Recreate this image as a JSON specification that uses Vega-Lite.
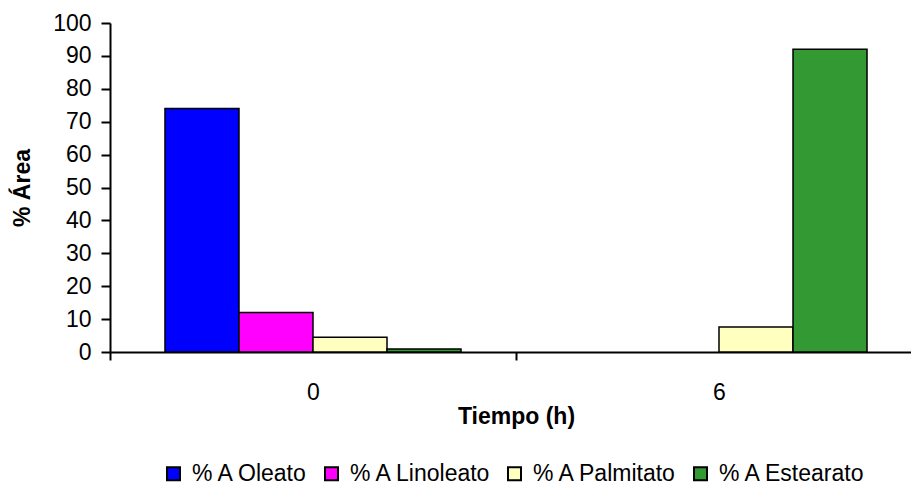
{
  "$schema": "https://vega.github.io/schema/vega-lite/v6.json",
  "width": 812,
  "height": 329,
  "autosize": {"type": "none"},
  "padding": {"left": 110, "top": 23, "right": 0, "bottom": 133},
  "background": "white",
  "config": {
    "view": {"stroke": null},
    "font": "Liberation Sans",
    "axis": {"domainColor": "black", "tickColor": "black", "labelColor": "black", "titleColor": "black", "grid": false, "domainWidth": 2, "tickWidth": 2, "zindex": 1}
  },
  "data": {
    "values": [
      {"t": "0", "serie": "% A Oleato", "v": 74},
      {"t": "0", "serie": "% A Linoleato", "v": 12},
      {"t": "0", "serie": "% A Palmitato", "v": 4.5},
      {"t": "0", "serie": "% A Estearato", "v": 0.9},
      {"t": "6", "serie": "% A Oleato", "v": 0},
      {"t": "6", "serie": "% A Linoleato", "v": 0},
      {"t": "6", "serie": "% A Palmitato", "v": 7.6},
      {"t": "6", "serie": "% A Estearato", "v": 92}
    ]
  },
  "mark": {"type": "bar", "stroke": "black", "strokeWidth": 1.5},
  "encoding": {
    "x": {
      "field": "t", "type": "nominal",
      "scale": {"paddingInner": 0, "paddingOuter": 0},
      "axis": {"title": "Tiempo (h)", "labelAngle": 0, "tickBand": "extent", "tickSize": 8, "labelFontSize": 23, "labelPadding": 21, "titleFontSize": 23, "titleFontWeight": "bold", "titlePadding": 1}
    },
    "xOffset": {
      "field": "serie", "type": "nominal",
      "sort": ["% A Oleato", "% A Linoleato", "% A Palmitato", "% A Estearato"],
      "scale": {"paddingInner": 0, "paddingOuter": 0.743}
    },
    "y": {
      "field": "v", "type": "quantitative",
      "scale": {"domain": [0, 100]},
      "axis": {"title": "% Área", "values": [0,10,20,30,40,50,60,70,80,90,100], "tickSize": 9, "labelFontSize": 23, "labelPadding": 10, "titleFontSize": 23, "titleFontWeight": "bold", "titlePadding": 18}
    },
    "strokeOpacity": {"condition": {"test": "datum.v === 0", "value": 0}, "value": 1},
    "fill": {
      "field": "serie", "type": "nominal",
      "sort": ["% A Oleato", "% A Linoleato", "% A Palmitato", "% A Estearato"],
      "scale": {"domain": ["% A Oleato", "% A Linoleato", "% A Palmitato", "% A Estearato"], "range": ["#0000FF", "#FF00FF", "#FFFFC0", "#339933"]},
      "legend": {"title": null, "orient": "none", "direction": "horizontal", "legendX": 52, "legendY": 439, "symbolType": "square", "symbolSize": 169, "symbolStrokeColor": "black", "symbolStrokeWidth": 2, "labelFontSize": 23, "labelColor": "black", "columnPadding": 11, "labelOffset": 7}
    }
  }
}
